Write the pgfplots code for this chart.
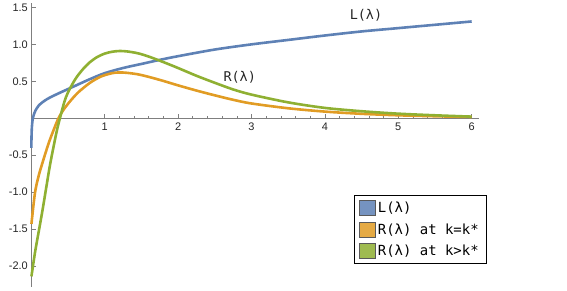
\documentclass[border=0pt]{standalone}
\usepackage{pgfplots}
\pgfplotsset{compat=1.18}
\usepackage{fontspec}
\setmainfont{Liberation Sans}
\newfontfamily\monof{DejaVu Sans Mono}
\definecolor{mblue}{HTML}{5E81B5}
\definecolor{morange}{HTML}{E19C24}
\definecolor{mgreen}{HTML}{8FB032}
\definecolor{axgray}{HTML}{7F7F7F}
\begin{document}
\begin{tikzpicture}
\useasboundingbox (-31.3bp,-4.3bp) rectangle (535.7bp,286.7bp);
\begin{axis}[
  at={(0,0)}, anchor=south west,
  scale only axis, width=447.7bp, height=283.7bp,
  xmin=0, xmax=6.1, ymin=-2.28, ymax=1.56,
  axis lines=middle,
  axis line style={draw=axgray, line width=0.7bp, -},
  every tick/.style={draw=axgray, line width=0.6bp},
  tick align=inside,
  major tick length=4.5bp, minor tick length=2.6bp,
  xtick={1,2,3,4,5,6},
  ytick={-2,-1.5,-1,-0.5,0.5,1,1.5},
  minor x tick num=4, minor y tick num=4,
  /pgf/number format/assume math mode=true,
  xticklabel style={font=\fontsize{11}{13}\selectfont, text=black!85, yshift=-1.5bp},
  yticklabel style={font=\fontsize{11}{13}\selectfont, text=black!85, /pgf/number format/.cd, fixed, fixed zerofill, precision=1},
  clip=false,
  legend style={at={(rel axis cs:0.721,0.323)}, anchor=north west, draw=black, line width=0.6bp,
    font=\monof\fontsize{14}{16}\selectfont, inner xsep=5bp, inner ysep=4.5bp, row sep=5.5bp,
    nodes={inner xsep=2.5bp}},
  legend cell align=left,
  legend image code/.code={\draw[#1, fill, draw=black!65, line width=0.5bp, fill opacity=0.85] (0bp,-7.5bp) rectangle (15.5bp,7.5bp);},
]
\addplot[color=mblue, line width=2.6bp, smooth] coordinates {
(0.0005,-0.40) (0.003,-0.25) (0.008,-0.12) (0.018,-0.02) (0.035,0.05) (0.06,0.11)
(0.1,0.17) (0.15,0.215) (0.22,0.262) (0.3,0.303) (0.4,0.35) (0.5,0.395) (0.6,0.44) (0.8,0.53)
(1.0,0.61) (1.25,0.68) (1.5,0.735) (1.75,0.79) (2.0,0.84) (2.5,0.93) (3.0,1.00) (3.5,1.06)
(4.0,1.12) (4.5,1.175) (5.0,1.22) (5.5,1.265) (6.0,1.31)};
\addlegendentry{L(λ)}
\addplot[color=morange, line width=2.6bp, smooth] coordinates {
(0.002,-1.43) (0.05,-1.01) (0.1,-0.78) (0.15,-0.61) (0.2,-0.45) (0.25,-0.30)
(0.3,-0.17) (0.37,0.0) (0.45,0.13) (0.55,0.255) (0.65,0.36) (0.8,0.48) (0.95,0.565) (1.1,0.61)
(1.2,0.62) (1.3,0.615) (1.45,0.595) (1.6,0.56) (1.8,0.505) (2.0,0.445) (2.25,0.375) (2.5,0.31)
(2.75,0.25) (3.0,0.20) (3.5,0.135) (4.0,0.09) (4.5,0.06) (5.0,0.04) (5.5,0.027) (6.0,0.017)};
\addlegendentry{R(λ) at k=k*}
\addplot[color=mgreen, line width=2.6bp, smooth] coordinates {
(0.002,-2.14) (0.05,-1.82) (0.1,-1.54) (0.15,-1.26) (0.2,-0.96) (0.25,-0.66)
(0.3,-0.40) (0.35,-0.16) (0.39,0.0) (0.45,0.22) (0.5,0.35) (0.6,0.53) (0.7,0.66) (0.8,0.76)
(0.9,0.83) (1.0,0.875) (1.1,0.90) (1.2,0.91) (1.3,0.905) (1.45,0.88) (1.6,0.835) (1.8,0.76)
(2.0,0.68) (2.25,0.575) (2.5,0.48) (2.75,0.39) (3.0,0.32) (3.5,0.215) (4.0,0.14) (4.5,0.095)
(5.0,0.062) (5.5,0.04) (6.0,0.022)};
\addlegendentry{R(λ) at k>k*}
\node[font=\monof\fontsize{13.5}{16}\selectfont, text=black!85] at (axis cs:4.56,1.40) {L(λ)};
\node[font=\monof\fontsize{13.5}{16}\selectfont, text=black!85] at (axis cs:2.84,0.56) {R(λ)};
\end{axis}
\end{tikzpicture}
\end{document}
